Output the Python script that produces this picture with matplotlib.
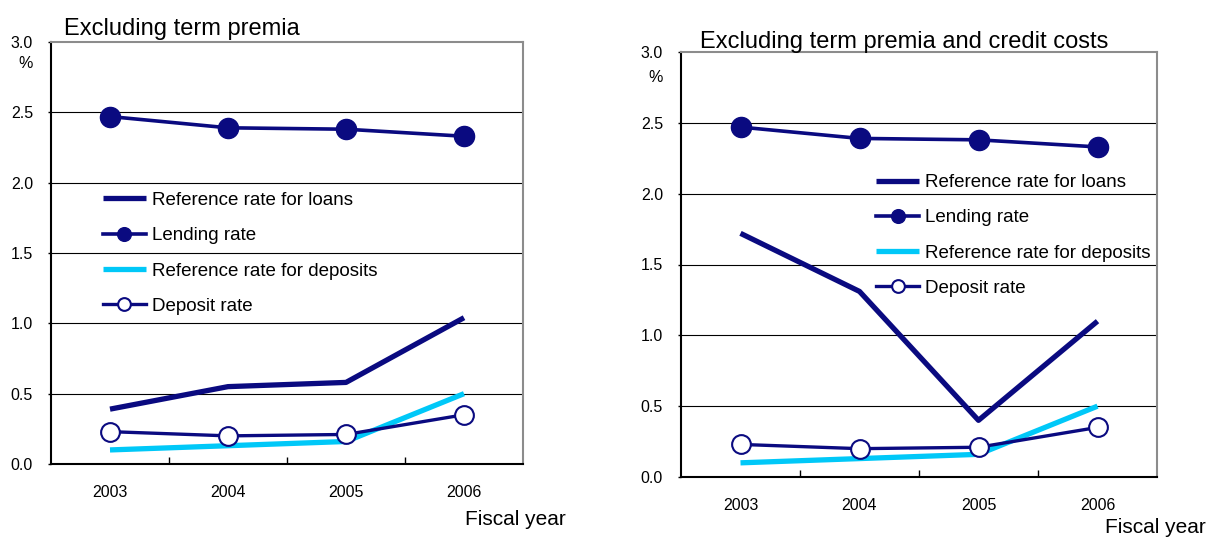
import matplotlib
matplotlib.use("Agg")
import matplotlib.pyplot as plt
from matplotlib.ticker import FixedLocator, NullFormatter

plt.rcParams['font.family'] = ['Liberation Sans', 'DejaVu Sans']

years = ['2003', '2004', '2005', '2006']
lending_rate = [2.47, 2.39, 2.38, 2.33]
ref_deposits = [0.10, 0.13, 0.16, 0.50]
deposit_rate = [0.23, 0.20, 0.21, 0.35]
ref_loans_term = [0.39, 0.55, 0.58, 1.04]
ref_loans_term_credit = [1.72, 1.31, 0.40, 1.10]

titles = ['Excluding term premia', 'Excluding term premia and credit costs']
yticks = [0.0, 0.5, 1.0, 1.5, 2.0, 2.5, 3.0]

NAVY = '#0a0a80'
CYAN = '#00c8f8'

W, H = 1209, 537
fig = plt.figure(figsize=(W / 100, H / 100), dpi=100)


def px_axes(x0, y0, x1, y1):
    # pixel box (left, top, right, bottom) -> figure fraction
    return fig.add_axes([x0 / W, 1 - y1 / H, (x1 - x0) / W, (y1 - y0) / H])


ax1 = px_axes(51, 42, 523, 464)
ax2 = px_axes(681, 52, 1157, 477)

panels = [
    (ax1, ref_loans_term, titles[0], (0.11, 0.645)),
    (ax2, ref_loans_term_credit, titles[1], (0.41, 0.713)),
]

for ax, ref_loans, title, leg_pos in panels:
    x = range(len(years))
    ax.plot(x, ref_loans, color=NAVY, lw=3.8, solid_capstyle='butt',
            label='Reference rate for loans', zorder=3)
    ax.plot(x, lending_rate, color=NAVY, lw=2.6, marker='o', ms=14.5,
            label='Lending rate', zorder=4)
    ax.plot(x, ref_deposits, color=CYAN, lw=3.8, solid_capstyle='butt',
            label='Reference rate for deposits', zorder=3)
    ax.plot(x, deposit_rate, color=NAVY, lw=2.4, marker='o', ms=13.5,
            mfc='white', mec=NAVY, mew=1.5, label='Deposit rate', zorder=4)

    ax.set_xlim(-0.5, 3.5)
    ax.set_ylim(0, 3.0)
    ax.set_xticks(list(x))
    ax.set_xticklabels(years)
    ax.xaxis.set_minor_locator(FixedLocator([0.5, 1.5, 2.5]))
    ax.xaxis.set_minor_formatter(NullFormatter())
    ax.tick_params(axis='x', which='major', length=0, pad=15, labelsize=11.5)
    ax.tick_params(axis='x', which='minor', direction='in', length=5,
                   width=1, color='black')
    ax.set_yticks(yticks)
    ax.set_yticklabels([f'{v:.1f}' for v in yticks])
    ax.tick_params(axis='y', length=2, width=1, direction='out', pad=11,
                   labelsize=11.5)

    for v in yticks[1:-1]:
        ax.axhline(v, color='black', lw=0.8, zorder=1)

    ax.spines['left'].set_color('black')
    ax.spines['bottom'].set_color('black')
    ax.spines['top'].set_color('#8c8c8c')
    ax.spines['right'].set_color('#8c8c8c')
    for s in ax.spines.values():
        s.set_linewidth(1.5)

    ax.legend(loc='upper left', bbox_to_anchor=leg_pos, frameon=False,
              fontsize=13.5, handlelength=2.3, handletextpad=0.3,
              labelspacing=0.97, borderpad=0, borderaxespad=0,
              markerscale=0.68)

ax1.text(0.028, 1.017, titles[0], transform=ax1.transAxes, fontsize=17,
         va='baseline', ha='left')
ax2.text(0.04, 1.0094, titles[1], transform=ax2.transAxes, fontsize=17,
         va='baseline', ha='left')

fig.text(26 / W, 1 - 63 / H, '%', fontsize=11.5, ha='center', va='center')
fig.text(656 / W, 1 - 77 / H, '%', fontsize=11.5, ha='center', va='center')
fig.text(465 / W, 1 - 525 / H, 'Fiscal year', fontsize=15, ha='left',
         va='baseline')
fig.text(1105 / W, 1 - 533 / H, 'Fiscal year', fontsize=15, ha='left',
         va='baseline')

fig.savefig('out.png', dpi=100)
